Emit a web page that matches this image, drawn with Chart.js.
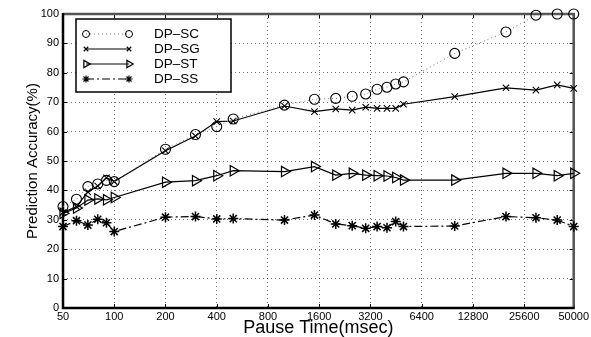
<!DOCTYPE html>
<html>
<head>
<meta charset="utf-8">
<script src="https://cdn.jsdelivr.net/npm/chart.js@4"></script>
<style>
  body { margin: 0; background: #fff; }
</style>
</head>
<body>
<canvas id="accuracy" width="591" height="337"></canvas>
<script>
// pause times (msec) of the measurements
var pauseTimes = [50, 60, 70, 80, 90, 100, 200, 300, 400, 500, 1000, 1500, 2000, 2500,
                  3000, 3500, 4000, 4500, 5000, 10000, 20000, 30000, 40000, 50000];
var tickValues = [50, 100, 200, 400, 800, 1600, 3200, 6400, 12800, 25600, 50000];
var seriesNames = ["DP–SC", "DP–SG", "DP–ST", "DP–SS"];

// prediction accuracy (%) for each series
var accSC = [34.5, 37, 41.3, 42.2, 43.4, 43, 54, 59, 61.7, 64.3, 69, 71, 71.3, 72,
             72.8, 74.4, 75.1, 76.2, 76.9, 86.6, 93.9, 99.6, 100, 100];
var accSG = [32.5, 34.5, 39.5, 41.5, 44.3, 43, 53.5, 58.5, 63.4, 63.6, 68.7, 66.8, 67.7, 67.3,
             68.3, 67.9, 67.9, 67.9, 69.3, 71.9, 74.9, 74.1, 75.9, 74.7];
var accST = [32.2, 34, 36.7, 37.1, 36.8, 37.6, 42.8, 43.3, 45.0, 46.7, 46.4, 48.1, 45.2, 45.8,
             45.2, 45.0, 44.9, 44.4, 43.5, 43.5, 45.8, 45.8, 45.0, 45.8];
var accSS = [27.7, 29.7, 28.2, 30.2, 29.0, 26.0, 30.9, 31.1, 30.3, 30.4, 29.9, 31.6, 28.6, 28.0,
             27.1, 27.7, 27.3, 29.4, 27.7, 27.9, 31.1, 30.7, 29.9, 27.7];

var fontFamily = '"Liberation Sans", Arial, Helvetica, sans-serif';

function toPoints(values) {
    return values.map(function(v, i) { return {x: pauseTimes[i], y: v}; });
}

var lineStyles = [
    {color: "#777", width: 1, dash: [1, 3], marker: "circle", radius: 5, rotation: 0, markerWidth: 1.1},
    {color: "#000", width: 1.2, dash: [], marker: "crossRot", radius: 4.5, rotation: 0, markerWidth: 1.1},
    {color: "#000", width: 1.2, dash: [], marker: "triangle", radius: 6, rotation: 90, markerWidth: 1.2},
    {color: "#000", width: 1.2, dash: [8, 3, 2, 3], marker: "star", radius: 5, rotation: 0, markerWidth: 1.5}
];

var allValues = [accSC, accSG, accST, accSS];

var datasets = allValues.map(function(values, i) {
    var s = lineStyles[i];
    return {
        label: seriesNames[i],
        data: toPoints(values),
        borderColor: s.color,
        borderWidth: s.width,
        borderDash: s.dash,
        pointStyle: s.marker,
        pointRadius: s.radius,
        pointRotation: s.rotation,
        pointBorderColor: "#000",
        pointBorderWidth: s.markerWidth,
        pointBackgroundColor: "rgba(0,0,0,0)",
        tension: 0,
        clip: false
    };
});

// MATLAB-style box with inward ticks
var framePlugin = {
    id: "frame",
    beforeDatasetsDraw: function(chart) {
        var ctx = chart.ctx, a = chart.chartArea;
        var xs = chart.scales.x, ys = chart.scales.y;
        ctx.save();
        ctx.strokeStyle = "#000";
        ctx.lineWidth = 1;
        tickValues.forEach(function(v) {
            var px = Math.round(xs.getPixelForValue(v)) + 0.5;
            ctx.beginPath();
            ctx.moveTo(px, a.bottom); ctx.lineTo(px, a.bottom - 4);
            ctx.moveTo(px, a.top); ctx.lineTo(px, a.top + 4);
            ctx.stroke();
        });
        for (var v = 0; v <= 100; v += 10) {
            var py = Math.round(ys.getPixelForValue(v)) + 0.5;
            ctx.beginPath();
            ctx.moveTo(a.left, py); ctx.lineTo(a.left + 4, py);
            ctx.moveTo(a.right, py); ctx.lineTo(a.right - 4, py);
            ctx.stroke();
        }
        ctx.strokeStyle = "#555";
        ctx.lineWidth = 2.5;
        ctx.beginPath();
        ctx.moveTo(a.left, a.top); ctx.lineTo(a.right, a.top); ctx.lineTo(a.right, a.bottom);
        ctx.stroke();
        ctx.strokeStyle = "#000";
        ctx.lineWidth = 2.5;
        ctx.beginPath();
        ctx.moveTo(a.left, a.top - 1); ctx.lineTo(a.left, a.bottom); ctx.lineTo(a.right + 1, a.bottom);
        ctx.stroke();
        ctx.restore();
    }
};

// legend box with marker-line-marker samples
var legendPlugin = {
    id: "boxLegend",
    afterDatasetsDraw: function(chart) {
        var ctx = chart.ctx;
        var bx = 76, by = 19, bw = 155, bh = 73;
        ctx.save();
        ctx.fillStyle = "#fff";
        ctx.fillRect(bx, by, bw, bh);
        ctx.strokeStyle = "#000";
        ctx.lineWidth = 1.5;
        ctx.strokeRect(bx, by, bw, bh);
        seriesNames.forEach(function(name, i) {
            var s = lineStyles[i];
            var y = 34 + i * 15;
            ctx.strokeStyle = s.color;
            ctx.lineWidth = s.width;
            ctx.setLineDash(s.dash);
            ctx.beginPath();
            ctx.moveTo(86, y); ctx.lineTo(129, y);
            ctx.stroke();
            ctx.setLineDash([]);
            ctx.strokeStyle = "#000";
            ctx.fillStyle = "rgba(0,0,0,0)";
            [86, 129].forEach(function(px) {
                Chart.helpers.drawPoint(ctx, {
                    pointStyle: s.marker,
                    radius: s.radius * 0.7,
                    rotation: s.rotation,
                    borderWidth: s.markerWidth
                }, px, y);
            });
            ctx.fillStyle = "#000";
            ctx.font = "13.5px " + fontFamily;
            ctx.textAlign = "left";
            ctx.textBaseline = "middle";
            ctx.fillText(name, 154, y);
        });
        ctx.restore();
    }
};

var gridDash = [1, 3];
var gridColor = "rgba(0,0,0,0.55)";

var accuracyChart = new Chart(document.getElementById("accuracy"), {
    type: "line",
    data: { datasets: datasets },
    options: {
        responsive: false,
        animation: false,
        layout: { padding: { left: 0, right: 17, top: 14, bottom: 0 } },
        plugins: {
            legend: { display: false },
            tooltip: { enabled: false }
        },
        scales: {
            x: {
                type: "logarithmic",
                min: 50,
                max: 50000,
                afterBuildTicks: function(scale) {
                    scale.ticks = tickValues.map(function(v) { return {value: v}; });
                },
                afterFit: function(scale) { scale.height = 29; },
                ticks: {
                    autoSkip: false,
                    maxRotation: 0,
                    padding: 2,
                    color: "#000",
                    font: { family: fontFamily, size: 11 },
                    callback: function(value) { return String(value); }
                },
                grid: { color: gridColor, lineWidth: 1, drawTicks: false },
                border: { display: false, dash: gridDash },
                title: {
                    display: true,
                    text: "Pause Time(msec)",
                    color: "#000",
                    font: { family: fontFamily, size: 18, lineHeight: 1 },
                    padding: { top: 0, bottom: 0 }
                }
            },
            y: {
                min: 0,
                max: 100,
                afterFit: function(scale) { scale.width = 63; },
                ticks: {
                    stepSize: 10,
                    padding: 4,
                    color: "#000",
                    font: { family: fontFamily, size: 11 }
                },
                grid: { color: gridColor, lineWidth: 1, drawTicks: false },
                border: { display: false, dash: gridDash },
                title: {
                    display: true,
                    text: "Prediction Accuracy(%)",
                    color: "#000",
                    font: { family: fontFamily, size: 15, lineHeight: 1 },
                    padding: { top: 25, bottom: 0 }
                }
            }
        }
    },
    plugins: [framePlugin, legendPlugin]
});
</script>
</body>
</html>
